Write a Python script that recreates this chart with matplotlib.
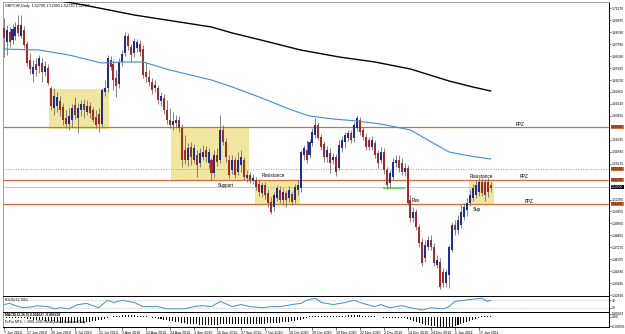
import matplotlib
matplotlib.use("Agg")
import matplotlib.pyplot as plt
import matplotlib.transforms as mtransforms
from matplotlib.patches import Rectangle
import numpy as np

plt.rcParams["font.family"] = ["Liberation Sans", "DejaVu Sans"]

# ---------------- data ----------------
date_labels = ["7 Jun 2010", "17 Jun 2010", "29 Jun 2010", "9 Jul 2010", "21 Jul 2010",
               "2 Aug 2010", "12 Aug 2010", "24 Aug 2010", "3 Sep 2010", "15 Sep 2010",
               "27 Sep 2010", "7 Oct 2010", "19 Oct 2010", "29 Oct 2010", "10 Nov 2010",
               "22 Nov 2010", "2 Dec 2010", "14 Dec 2010", "24 Dec 2010", "5 Jan 2011",
               "17 Jan 2011"]
date_bars = [0, 8, 16, 24, 32, 40, 48, 56, 64, 72, 80, 88, 96, 104, 112, 120, 128,
             136, 144, 152, 160]

opens = [
    1.692, 1.678, 1.688, 1.680, 1.684, 1.695, 1.684, 1.690, 1.676, 1.660,
    1.646, 1.656, 1.654, 1.657, 1.648, 1.652, 1.632, 1.612, 1.614, 1.619,
    1.613, 1.602, 1.596, 1.600, 1.615, 1.602, 1.610, 1.616, 1.608, 1.614,
    1.610, 1.603, 1.606, 1.596, 1.628, 1.632, 1.660, 1.656, 1.642, 1.636,
    1.658, 1.667, 1.684, 1.673, 1.667, 1.672, 1.676, 1.671, 1.648, 1.643,
    1.638, 1.632, 1.632, 1.619, 1.622, 1.610, 1.600, 1.595, 1.597, 1.600,
    1.592, 1.570, 1.560, 1.573, 1.560, 1.565, 1.557, 1.563, 1.570, 1.557,
    1.560, 1.547, 1.565, 1.560, 1.590, 1.578, 1.560, 1.550, 1.560, 1.548,
    1.555, 1.560, 1.542, 1.545, 1.539, 1.540, 1.536, 1.527, 1.535, 1.527,
    1.518, 1.513, 1.522, 1.530, 1.520, 1.527, 1.522, 1.526, 1.520, 1.530,
    1.532, 1.565, 1.570, 1.565, 1.577, 1.585, 1.595, 1.583, 1.576, 1.563,
    1.567, 1.560, 1.563, 1.552, 1.572, 1.578, 1.582, 1.587, 1.582, 1.592,
    1.600, 1.590, 1.583, 1.580, 1.573, 1.577, 1.567, 1.560, 1.568, 1.550,
    1.537, 1.543, 1.557, 1.560, 1.557, 1.548, 1.552, 1.520, 1.502, 1.508,
    1.493, 1.478, 1.462, 1.473, 1.480, 1.473, 1.455, 1.458, 1.448, 1.437,
    1.445, 1.470, 1.495, 1.490, 1.495, 1.503, 1.510, 1.517, 1.522, 1.525,
    1.528, 1.538, 1.538, 1.538, 1.535]

highs = [
    1.702, 1.695, 1.693, 1.696, 1.698, 1.705, 1.705, 1.694, 1.679, 1.667,
    1.660, 1.662, 1.665, 1.662, 1.659, 1.656, 1.634, 1.632, 1.628, 1.624,
    1.617, 1.610, 1.612, 1.616, 1.623, 1.617, 1.620, 1.621, 1.620, 1.618,
    1.613, 1.610, 1.612, 1.632, 1.640, 1.665, 1.664, 1.660, 1.650, 1.662,
    1.670, 1.688, 1.687, 1.676, 1.682, 1.681, 1.680, 1.675, 1.658, 1.650,
    1.642, 1.640, 1.635, 1.628, 1.626, 1.620, 1.612, 1.608, 1.605, 1.604,
    1.596, 1.585, 1.577, 1.578, 1.576, 1.570, 1.572, 1.575, 1.574, 1.572,
    1.562, 1.570, 1.572, 1.605, 1.595, 1.582, 1.565, 1.565, 1.563, 1.568,
    1.570, 1.563, 1.550, 1.548, 1.546, 1.543, 1.541, 1.538, 1.538, 1.531,
    1.523, 1.528, 1.535, 1.534, 1.532, 1.530, 1.534, 1.528, 1.536, 1.540,
    1.570, 1.575, 1.580, 1.581, 1.592, 1.602, 1.598, 1.586, 1.579, 1.574,
    1.572, 1.567, 1.566, 1.580, 1.584, 1.588, 1.590, 1.590, 1.598, 1.605,
    1.603, 1.593, 1.587, 1.583, 1.584, 1.580, 1.570, 1.573, 1.572, 1.553,
    1.550, 1.562, 1.565, 1.565, 1.562, 1.557, 1.555, 1.525, 1.513, 1.511,
    1.496, 1.482, 1.480, 1.484, 1.485, 1.477, 1.465, 1.462, 1.452, 1.451,
    1.475, 1.498, 1.500, 1.505, 1.515, 1.517, 1.522, 1.530, 1.536, 1.540,
    1.542, 1.542, 1.541, 1.542, 1.538]

lows = [
    1.663, 1.665, 1.673, 1.676, 1.680, 1.684, 1.682, 1.672, 1.654, 1.646,
    1.638, 1.644, 1.647, 1.638, 1.644, 1.635, 1.610, 1.605, 1.608, 1.604,
    1.595, 1.592, 1.590, 1.593, 1.601, 1.587, 1.604, 1.602, 1.605, 1.602,
    1.598, 1.592, 1.588, 1.593, 1.624, 1.628, 1.650, 1.630, 1.623, 1.632,
    1.654, 1.664, 1.670, 1.658, 1.663, 1.668, 1.664, 1.642, 1.638, 1.634,
    1.626, 1.628, 1.616, 1.614, 1.606, 1.596, 1.592, 1.590, 1.592, 1.588,
    1.553, 1.556, 1.554, 1.555, 1.557, 1.543, 1.553, 1.560, 1.558, 1.552,
    1.540, 1.542, 1.554, 1.557, 1.575, 1.558, 1.542, 1.546, 1.542, 1.545,
    1.548, 1.540, 1.538, 1.537, 1.536, 1.530, 1.524, 1.523, 1.521, 1.513,
    1.506, 1.509, 1.519, 1.517, 1.515, 1.513, 1.518, 1.515, 1.517, 1.525,
    1.528, 1.560, 1.557, 1.562, 1.574, 1.582, 1.580, 1.570, 1.558, 1.558,
    1.547, 1.556, 1.544, 1.550, 1.568, 1.572, 1.579, 1.577, 1.578, 1.589,
    1.585, 1.580, 1.570, 1.570, 1.570, 1.562, 1.552, 1.557, 1.546, 1.531,
    1.532, 1.540, 1.553, 1.548, 1.545, 1.544, 1.515, 1.498, 1.498, 1.490,
    1.473, 1.454, 1.458, 1.470, 1.470, 1.454, 1.452, 1.431, 1.433, 1.433,
    1.432, 1.468, 1.485, 1.486, 1.492, 1.500, 1.504, 1.514, 1.519, 1.522,
    1.524, 1.524, 1.519, 1.523, 1.528]

closes = [
    1.682, 1.690, 1.678, 1.691, 1.693, 1.687, 1.695, 1.675, 1.657, 1.651,
    1.653, 1.650, 1.662, 1.648, 1.654, 1.637, 1.614, 1.624, 1.623, 1.610,
    1.600, 1.596, 1.604, 1.612, 1.605, 1.612, 1.616, 1.610, 1.614, 1.607,
    1.600, 1.595, 1.596, 1.630, 1.632, 1.662, 1.653, 1.640, 1.634, 1.658,
    1.666, 1.684, 1.674, 1.665, 1.679, 1.678, 1.668, 1.645, 1.643, 1.638,
    1.630, 1.635, 1.620, 1.624, 1.610, 1.600, 1.595, 1.599, 1.600, 1.592,
    1.560, 1.560, 1.572, 1.563, 1.572, 1.555, 1.567, 1.568, 1.563, 1.568,
    1.547, 1.565, 1.558, 1.590, 1.578, 1.563, 1.545, 1.560, 1.545, 1.560,
    1.563, 1.543, 1.545, 1.540, 1.542, 1.533, 1.528, 1.535, 1.525, 1.517,
    1.508, 1.525, 1.532, 1.520, 1.528, 1.520, 1.530, 1.518, 1.533, 1.535,
    1.568, 1.572, 1.560, 1.578, 1.588, 1.595, 1.582, 1.573, 1.563, 1.570,
    1.557, 1.563, 1.548, 1.575, 1.580, 1.585, 1.587, 1.580, 1.595, 1.602,
    1.588, 1.583, 1.573, 1.573, 1.580, 1.565, 1.557, 1.568, 1.550, 1.535,
    1.547, 1.558, 1.560, 1.552, 1.548, 1.552, 1.517, 1.502, 1.508, 1.493,
    1.477, 1.457, 1.475, 1.480, 1.473, 1.457, 1.460, 1.433, 1.437, 1.448,
    1.473, 1.495, 1.490, 1.500, 1.508, 1.513, 1.517, 1.525, 1.532, 1.535,
    1.538, 1.527, 1.525, 1.528, 1.532]

# slow (black) and fast (blue) moving averages, read at a few bars
ma_slow_bars = [0, 27, 44, 70, 77, 88, 100, 113, 125, 137, 150, 158, 164]
ma_slow_vals = [1.729, 1.715, 1.705, 1.693, 1.687, 1.679, 1.670, 1.663, 1.658, 1.651,
                1.639, 1.633, 1.629]
ma_fast_bars = [0, 12, 22, 33, 40, 47, 56, 70, 77, 86, 97, 103, 111, 119, 127, 137,
                144, 150, 157, 164]
ma_fast_vals = [1.671, 1.670, 1.665, 1.657, 1.658, 1.658, 1.650, 1.640, 1.633, 1.623,
                1.610, 1.604, 1.601, 1.599, 1.596, 1.590, 1.578, 1.568, 1.564, 1.561]

# RSI line
rsi_bars = [0, 2, 5, 7, 10, 11, 15, 17, 19, 22, 25, 28, 32, 35, 37, 40, 44, 47, 52, 55,
            61, 64, 67, 70, 73, 77, 80, 83, 87, 90, 93, 97, 100, 102, 105, 107, 111,
            115, 118, 121, 125, 127, 130, 134, 137, 141, 144, 148, 150, 152, 155, 158,
            161, 163, 164]
rsi_vals = [47, 53, 36, 30, 36, 41, 36, 24, 30, 24, 47, 53, 30, 70, 58, 70, 58, 36, 36,
            24, 24, 36, 41, 36, 64, 36, 47, 36, 30, 36, 36, 47, 53, 70, 81, 58, 47, 58,
            70, 53, 36, 47, 30, 41, 30, 18, 30, 24, 36, 64, 70, 76, 81, 64, 70]

# OsMA histogram (units of 0.0005)
osma = [-1.5, -1.5, -1.5, -1.5, -1.5, -1.5, -1.0, -1.5, -2.0, -2.5, -3.0, -3.0,
        -3.5, -3.5, -4.0, -4.0, -4.5, -5.0, -5.5, -6.0, -6.0, -6.5, -6.5, -6.5, -6.5,
        -6.5, -6.0, -6.0, -5.5, -5.0, -4.5, -4.0, -3.5, -3.0, -2.0, -1.5, -0.5,
        0.5, 1.0, 1.0, 1.5, 1.5, 1.5, 1.5, 1.5, 1.0, 1.0, 0.5, 0.5,
        -0.5, -1.0, -1.5, -2.0,
        -2.5, -3.0, -3.5, -4.0, -4.5, -5.0, -5.5, -6.0, -6.5, -7.0, -7.0, -7.5, -7.5,
        -8.0, -8.0, -8.0, -8.0, -8.0,
        -8.0, -8.0, -7.5, -7.5, -7.5, -7.5, -7.5, -7.5, -7.5, -7.5, -7.5, -7.5,
        -7.0, -7.0, -7.0, -7.0, -7.0, -7.0, -6.5, -6.5,
        -6.5, -6.0, -6.0, -5.5, -5.0, -5.0, -4.5, -4.0, -3.5, -3.0, -2.0, -1.0,
        0.5, 1.0, 1.0, 1.0, 1.0, 1.0, 1.0, 1.0, 1.0, 1.0, 1.0, 1.0, 1.0, 1.5, 1.5,
        1.5, 1.5, 1.5, 1.0, 1.0,
        0.5, 0.5, 0.5, -0.5, -0.5, -1.0, -1.0, -1.5, -1.5, -1.5, -1.5, -1.5, -1.5, -2.0,
        -3.0, -4.0, -5.0, -6.0, -7.0, -8.0, -8.5, -9.0, -9.5, -10.0, -10.5, -10.5,
        -10.5, -10.5,
        -10.0, -9.0, -8.0, -7.0, -6.0, -5.0, -4.0, -3.0, -2.0, -1.0, 0.5, 1.0, 1.0, 1.0]

# zones: (first bar, last bar, top price, bottom price)
zone_start = [15.3, 56.4, 84.7, 156.7]
zone_end = [35.5, 82.6, 99.8, 165.1]
zone_top = [1.631, 1.593, 1.540, 1.540]
zone_bottom = [1.591, 1.540, 1.516, 1.516]

ppz_levels = [1.593, 1.540, 1.516]
dotted_level = 1.551
current_price = 1.533
green_level = 1.532
green_from, green_to = 127.7, 135.2

price_ticks = [1.71170, 1.69975, 1.68780, 1.67585, 1.66390, 1.65195, 1.64000, 1.62805,
               1.61610, 1.60415, 1.58025, 1.56830, 1.55635, 1.52050,
               1.50855, 1.49660, 1.48465, 1.47270, 1.46075, 1.44880, 1.43685, 1.42490]

# ---------------- drawing ----------------
W, H = 625, 334
fig = plt.figure(figsize=(W / 100, H / 100), dpi=100)
fig.patch.set_facecolor("white")

def px_axes(x0, y0, x1, y1):
    return fig.add_axes([x0 / W, 1 - y1 / H, (x1 - x0) / W, (y1 - y0) / H])

BULL = "#1f2e94"
BEAR = "#a52a2a"
WICK = "#707070"
ORANGE = "#dc6a3a"
ZONE = "#f1e6a0"
MABLUE = "#3d8fd1"
FS = 2.45
XR = 609
XLIM = (-0.2, -0.2 + (XR - 3) / 2.97)

ax = px_axes(3, 2, XR, 296)
ax.set_xlim(*XLIM)
ax.set_ylim(1.424, 1.718)

o = np.array(opens); h = np.array(highs); l = np.array(lows); c = np.array(closes)
x = np.arange(len(o))
up = c >= o

for xs, xe, yt, yb in zip(zone_start, zone_end, zone_top, zone_bottom):
    ax.add_patch(Rectangle((xs, yb), xe - xs, yt - yb, facecolor=ZONE,
                           edgecolor="none", zorder=0))

for lv in ppz_levels:
    ax.axhline(lv, color=ORANGE, lw=0.9, zorder=1)
ax.axhline(dotted_level, color=ORANGE, lw=0.6, ls=(0, (1, 2)), zorder=1)
ax.axhline(current_price, color="#c8c8c8", lw=0.7, zorder=1)
ax.hlines(green_level, green_from, green_to, color="#55d155", lw=1.2, zorder=2)

ax.vlines(x, l, h, color=WICK, lw=0.6, zorder=3)
body_b = np.minimum(o, c)
body_h = np.maximum(np.abs(c - o), 0.0008)
ax.bar(x[up], body_h[up], bottom=body_b[up], width=0.68, color=BULL, lw=0, zorder=4)
ax.bar(x[~up], body_h[~up], bottom=body_b[~up], width=0.68, color=BEAR, lw=0, zorder=4)

ax.plot(ma_slow_bars, ma_slow_vals, color="black", lw=1.0, zorder=5)
ax.plot(ma_fast_bars, ma_fast_vals, color=MABLUE, lw=0.8, zorder=5)

# annotations
TFS = 3.3
ax.text(173.9, 1.5955, "PPZ", fontsize=TFS, ha="center", va="center")
ax.text(175.2, 1.5435, "PPZ", fontsize=TFS, ha="center", va="center")
ax.text(176.9, 1.5190, "PPZ", fontsize=TFS, ha="center", va="center")
ax.text(74.9, 1.5340, "Support", fontsize=TFS, ha="center", va="center")
ax.text(90.7, 1.5445, "Resistance", fontsize=TFS, ha="center", va="center")
ax.text(138.9, 1.5200, "Res", fontsize=TFS, ha="center", va="center")
ax.text(160.7, 1.5440, "Resistance", fontsize=TFS, ha="center", va="center")
ax.text(158.1, 1.5110, "Sup", fontsize=TFS, ha="left", va="center")

ax.yaxis.tick_right()
ax.set_yticks(price_ticks)
ax.set_yticklabels([f"{v:.5f}" for v in price_ticks], fontsize=FS)
ax.tick_params(axis="y", length=1.5, width=0.4, pad=0.6, colors="black")
ax.set_xticks([])
for s in ["left", "top"]:
    ax.spines[s].set_color("#a0a0a0")
for s in ["right", "bottom"]:
    ax.spines[s].set_color("black")
for s in ax.spines.values():
    s.set_linewidth(0.7)

# level labels on the price scale
trans = mtransforms.blended_transform_factory(ax.transAxes, ax.transData)
for lv in ppz_levels + [dotted_level]:
    ax.text(1.0035, lv, f"{lv:.5f}", transform=trans, fontsize=FS, color="black",
            va="center", ha="left", clip_on=False,
            bbox=dict(facecolor=ORANGE, edgecolor="none", pad=0.25))
ax.text(1.0035, current_price, f"{current_price:.5f}", transform=trans, fontsize=FS,
        color="white", va="center", ha="left", clip_on=False,
        bbox=dict(facecolor="black", edgecolor="none", pad=0.25))

fig.text(5 / W, 1 - 6 / H, "GBPCHF,Daily  1.52700 1.52990 1.52720 1.52720",
         fontsize=2.7, va="center", ha="left")

# RSI panel
ax2 = px_axes(3, 296, XR, 312)
ax2.set_xlim(*XLIM)
ax2.set_ylim(7.1, 92.9)
ax2.plot(rsi_bars, rsi_vals, color=MABLUE, lw=0.7)
for lv in [70, 30]:
    ax2.axhline(lv, color="#909090", lw=0.4, ls=(0, (1, 1.5)))
ax2.yaxis.tick_right()
ax2.set_yticks([70, 30])
ax2.set_yticklabels(["70", "30"], fontsize=FS)
ax2.tick_params(axis="y", length=1.5, width=0.4, pad=0.6)
ax2.set_xticks([])
ax2.text(0.004, 0.72, "RSI(8) 62.7661", transform=ax2.transAxes, fontsize=FS,
         va="center", ha="left")
for s in ax2.spines.values():
    s.set_linewidth(0.7)
    s.set_color("black")
ax2.spines["left"].set_color("#a0a0a0")

# OsMA panel
ax3 = px_axes(3, 312, XR, 327)
ax3.set_xlim(*XLIM)
ax3.set_ylim(-10.5, 4.5)
ax3.bar(np.arange(len(osma)), osma, width=0.34, color="black", lw=0)
ax3.yaxis.tick_right()
ax3.set_yticks([3.0, 0.0, -9.5])
ax3.set_yticklabels(["0.00263", "0.00", "-0.00556"], fontsize=FS)
ax3.tick_params(axis="y", length=1.5, width=0.4, pad=0.6)
ax3.set_xticks(date_bars)
ax3.set_xticklabels(date_labels, fontsize=2.6, ha="left")
ax3.tick_params(axis="x", length=2, width=0.4, pad=0.6)
ax3.text(0.004, 0.80, "MACD(12,26,9) 0.002627 -0.005558", transform=ax3.transAxes,
         fontsize=FS, va="center", ha="left", fontweight="bold")
ax3.text(0.004, 0.30, "FxPro MT4, \u00a9 2001-2010 MetaQuotes Software Corp.",
         transform=ax3.transAxes, fontsize=FS, va="center", ha="left")
for s in ax3.spines.values():
    s.set_linewidth(0.7)
    s.set_color("black")
ax3.spines["left"].set_color("#a0a0a0")

fig.savefig("out.png", dpi=100, facecolor="white")
